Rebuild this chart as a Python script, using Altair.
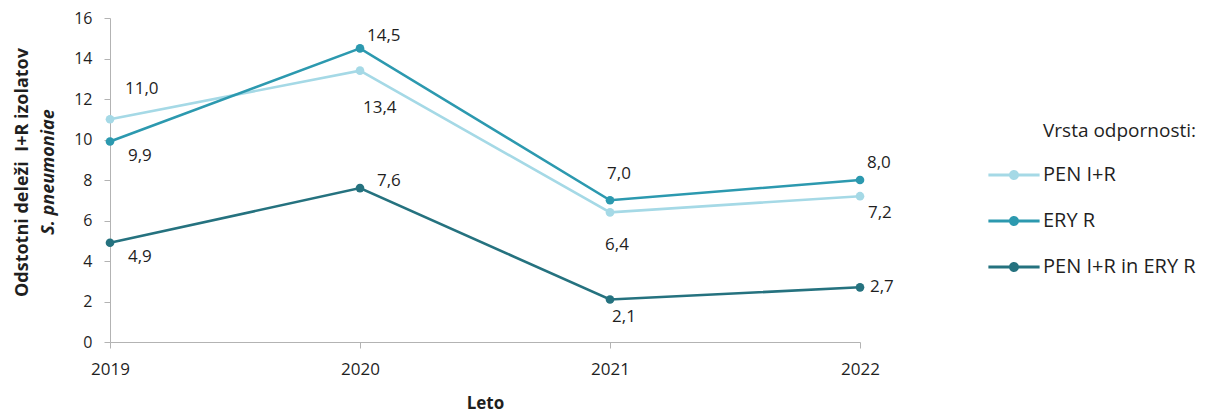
import altair as alt
import pandas as pd

years = ["2019", "2020", "2021", "2022"]
series = ["PEN I+R", "ERY R", "PEN I+R in ERY R"]
pen_ir = [11.0, 13.4, 6.4, 7.2]
ery_r = [9.9, 14.5, 7.0, 8.0]
pen_ery = [4.9, 7.6, 2.1, 2.7]
colors = ["#A5D9E6", "#2C99AF", "#25727F"]

rows = []
for s, vals in zip(series, [pen_ir, ery_r, pen_ery]):
    for yr, v in zip(years, vals):
        rows.append({"Leto": yr, "Vrsta": s, "v": v})
df = pd.DataFrame(rows)

FONT = "Open Sans"
TXT = "#1f1f1f"
AX = "#b3b3b3"

# label placement (dx, dy, align) per point
label_pos = {
    ("PEN I+R", "2019"): (15, -30, "left"),
    ("PEN I+R", "2020"): (3, 37, "left"),
    ("PEN I+R", "2021"): (7, 33, "center"),
    ("PEN I+R", "2022"): (8, 17, "left"),
    ("ERY R", "2019"): (18, 14, "left"),
    ("ERY R", "2020"): (7, -12, "left"),
    ("ERY R", "2021"): (9, -26, "center"),
    ("ERY R", "2022"): (7, -17, "left"),
    ("PEN I+R in ERY R", "2019"): (18, 14, "left"),
    ("PEN I+R in ERY R", "2020"): (17, -7, "left"),
    ("PEN I+R in ERY R", "2021"): (14, 18, "center"),
    ("PEN I+R in ERY R", "2022"): (10, 0, "left"),
}

color_scale = alt.Scale(domain=series, range=colors)
x_enc = alt.X(
    "Leto:O",
    sort=years,
    scale=alt.Scale(type="point", padding=0),
    axis=alt.Axis(
        title="Leto", labelAngle=0, labelFont=FONT, labelFontSize=17, labelColor=TXT,
        labelPadding=13, tickSize=6, tickColor=AX, domainColor=AX, ticks=True,
        titleFont=FONT, titleFontSize=17, titleFontWeight="bold", titleColor=TXT,
        titlePadding=18, grid=False,
    ),
)
y_enc = alt.Y(
    "v:Q",
    scale=alt.Scale(domain=[0, 16], nice=False),
    axis=alt.Axis(
        values=list(range(0, 17, 2)), labelFont=FONT, labelFontSize=16, labelColor=TXT,
        labelPadding=12, tickSize=6, tickColor=AX, domainColor=AX, grid=False,
        title="Odstotni deleži\u00a0\u00a0I+R izolatov", titleFont=FONT, titleFontSize=18,
        titleFontWeight="bold", titleColor=TXT, titleAngle=270, titleX=-88, titleY=154,
        titleAlign="center", titleBaseline="middle",
    ),
)

legend_symbol = ("M-1.28,-0.075H1.28V0.075H-1.28Z "
                 "M0.25,0A0.25,0.25 0 1,1 -0.25,0A0.25,0.25 0 1,1 0.25,0Z")

base = alt.Chart(df)

points = base.mark_circle(size=75, opacity=1).encode(
    x=x_enc, y=y_enc,
    color=alt.Color(
        "Vrsta:N", scale=color_scale, sort=series,
        legend=alt.Legend(
            title="Vrsta odpornosti:", orient="none", legendX=884, legendY=104,
            symbolType=legend_symbol, symbolSize=1600, symbolStrokeWidth=0,
            labelFont=FONT, labelFontSize=20, labelColor=TXT, labelOffset=9,
            titleFont=FONT, titleFontSize=19, titleFontWeight="normal", titleColor=TXT,
            titleAnchor="end", titlePadding=14, rowPadding=16, padding=0,
        ),
    ),
)
lines = base.mark_line(strokeWidth=2.6).encode(
    x=x_enc, y=y_enc,
    color=alt.Color("Vrsta:N", scale=color_scale, sort=series, legend=None),
)

label_layers = []
for (s, yr), (dx, dy, al) in label_pos.items():
    label_layers.append(
        base.transform_filter(
            (alt.datum.Vrsta == s) & (alt.datum.Leto == yr)
        ).transform_calculate(
            lbl="replace(format(datum.v, '.1f'), '.', ',')"
        ).mark_text(
            font=FONT, fontSize=17, color=TXT, dx=dx, dy=dy, align=al, baseline="middle"
        ).encode(x=x_enc, y=y_enc, text="lbl:N")
    )

species = alt.Chart(pd.DataFrame({"t": ["S. pneumoniae"]})).mark_text(
    font=FONT, fontSize=18, fontWeight="bold", fontStyle="italic", color=TXT,
    angle=270, align="center", baseline="middle",
).encode(x=alt.value(-61), y=alt.value(154), text="t:N")

chart = alt.layer(points, lines, *label_layers, species).properties(
    width=750, height=324,
    autosize=alt.AutoSizeParams(type="none"),
    padding={"left": 102, "top": 10, "right": 337, "bottom": 70},
).configure_view(stroke=None)

chart.save("out.html", embed_options={"renderer": "svg", "actions": False})
